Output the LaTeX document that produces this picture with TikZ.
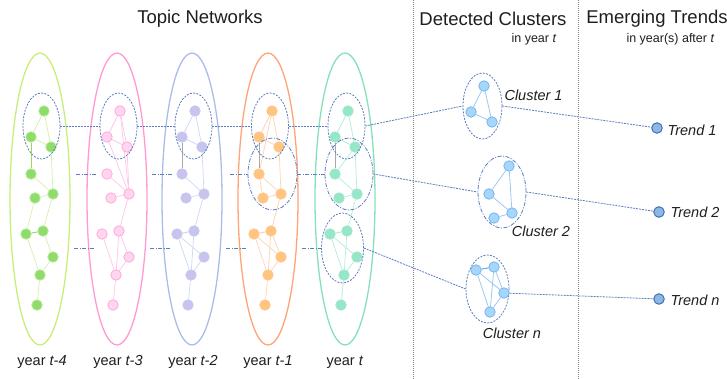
\documentclass[tikz,border=0pt]{standalone}
\usepackage{fontspec}
\setmainfont{Liberation Sans}
\usetikzlibrary{shapes.geometric}
\definecolor{gE}{HTML}{C6EE7A}\definecolor{gN}{HTML}{8EDC6A}\definecolor{gB}{HTML}{B4E898}\definecolor{gL}{HTML}{D4F0A8}\definecolor{gD}{HTML}{9AD868}
\definecolor{pE}{HTML}{FF9AD2}\definecolor{pN}{HTML}{FFD6EE}\definecolor{pB}{HTML}{FFA8DC}\definecolor{pL}{HTML}{FFC4E6}
\definecolor{uE}{HTML}{A9BDEA}\definecolor{uN}{HTML}{C9C3EE}\definecolor{uB}{HTML}{C4CCF2}\definecolor{uL}{HTML}{CCD8F4}
\definecolor{oE}{HTML}{FFA478}\definecolor{oN}{HTML}{FFC57E}\definecolor{oB}{HTML}{FFC890}\definecolor{oL}{HTML}{FFD2B0}
\definecolor{tE}{HTML}{86E0BC}\definecolor{tN}{HTML}{94E8C8}\definecolor{tB}{HTML}{A0E6CA}\definecolor{tL}{HTML}{AEEED6}
\definecolor{clb}{HTML}{5B7DBE}\definecolor{cN}{HTML}{A6D6FA}\definecolor{cB}{HTML}{6CB0EE}\definecolor{cL}{HTML}{9CC8F0}
\definecolor{trF}{HTML}{8DB8E6}\definecolor{trB}{HTML}{3F70B8}\definecolor{txt}{HTML}{1E1E1E}\definecolor{solidgray}{HTML}{A8A8A8}
\pgfdeclarelayer{bg}\pgfsetlayers{bg,main}
\newcommand\mknodes[3]{\foreach \i/\xx/\yy in {1/44/111,2/31/137,3/51/147,4/31/174,5/35/198,6/53/194,7/26/234,8/43/231,9/53/257,10/40/275,11/37/305}{\node[tn,#3] (#1\i) at (\xx+#2,\yy) {};}}
\newcommand\mkedges[3]{\begin{pgfonlayer}{bg}\foreach \a/\b in {#3}{\draw[line width=0.7pt,#2] (#1\a) -- (#1\b);}\end{pgfonlayer}}
\begin{document}
\begin{tikzpicture}[x=1pt,y=-1pt,font=\fontsize{11}{13}\selectfont,
  yearell/.style={draw,ellipse,line width=1.3pt,minimum width=60pt,minimum height=292pt,inner sep=0pt},
  tn/.style={circle,inner sep=0pt,minimum size=10.5pt,line width=0.8pt},
  cn/.style={circle,inner sep=0pt,minimum size=10.5pt,line width=0.7pt,fill=cN,draw=cB},
  cdash/.style={draw=clb,ellipse,inner sep=0pt,line width=0.8pt,dash pattern=on 2pt off 1.3pt},
  cdd/.style={draw=clb,ellipse,inner sep=0pt,line width=0.8pt,dash pattern=on 4pt off 1.5pt on 1pt off 1.5pt},
  lnk/.style={draw=clb,line width=0.8pt,dash pattern=on 2pt off 1pt},
  lnkdd/.style={draw=clb,line width=0.8pt,dash pattern=on 4pt off 1.5pt on 1pt off 1.5pt},
  trnd/.style={circle,inner sep=0pt,minimum size=10.5pt,line width=1pt,fill=trF,draw=trB},
  sep/.style={draw=gray,line width=0.9pt,dash pattern=on 1pt off 1pt},
  ttl/.style={text=txt,font=\fontsize{18.5}{22}\selectfont},
  sub/.style={text=txt,font=\fontsize{12.5}{14}\selectfont},
  ylab/.style={text=txt,font=\fontsize{14.5}{17}\selectfont},
  clab/.style={text=txt,font=\fontsize{14.5}{17}\selectfont\itshape}]
\useasboundingbox (0,0) rectangle (727,379);
% separators
\coordinate (s1t) at (413,0); \coordinate (s1b) at (413,379);
\coordinate (s2t) at (578,0); \coordinate (s2b) at (578,379);
\draw[sep] (s1t) -- (s1b);
\draw[sep] (s2t) -- (s2b);
% titles
\node[ttl] (tTN) at (200,19) {Topic Networks};
\node[ttl] (tDC) at (493,19) {Detected Clusters};
\node[ttl] (tET) at (657,19) {Emerging Trends};
\node[sub,anchor=east] (sDC) at (560,39) {in year \textit{t}};
\node[sub,anchor=east] (sET) at (718,39) {in year(s) after \textit{t}};
% year ellipses
\node[yearell,draw=gE] (eg) at (40,199) {};
\node[yearell,draw=pE] (ep) at (117,199) {};
\node[yearell,draw=uE] (eu) at (192,199) {};
\node[yearell,draw=oE] (eo) at (268,199) {};
\node[yearell,draw=tE] (et) at (345,199) {};
% year labels
\node[ylab] (lg) at (42,362) {year \textit{t-4}};
\node[ylab] (lp) at (118,362) {year \textit{t-3}};
\node[ylab] (lu) at (193,362) {year \textit{t-2}};
\node[ylab] (lo) at (268,362) {year \textit{t-1}};
\node[ylab] (lt) at (345,362) {year \textit{t}};
% networks
\mknodes{g}{0}{fill=gN,draw=gB}
\mknodes{p}{76}{fill=pN,draw=pB}
\mknodes{u}{151}{fill=uN,draw=uB}
\mknodes{o}{228}{fill=oN,draw=oB}
\mknodes{t}{304}{fill=tN,draw=tB}
\mkedges{g}{gL}{1/2,1/3,2/3,3/6,4/6,5/6,5/7,6/8,8/9,9/10,7/10,10/11}
\mkedges{g}{gD,line width=1pt}{2/4,7/8}
\mkedges{p}{pL}{1/2,1/3,2/3,2/6,3/6,1/6,4/6,5/6,6/8,8/10,8/9,9/10,7/10,10/11}
\mkedges{u}{uL}{1/2,1/3,2/3,3/6,4/6,5/6,6/8,7/9,7/10,8/10,9/10,10/11}
\mkedges{u}{solidgray,line width=1pt}{2/4}
\mkedges{u}{uL,line width=1.1pt}{7/8}
\mkedges{o}{oL}{1/2,1/3,1/4,2/3,3/6,4/6,4/5,5/6,6/8,7/9,7/10,8/9,8/10,9/10,10/11}
\mkedges{o}{solidgray,line width=1pt}{2/4}
\mkedges{o}{oL,line width=1.1pt}{7/8}
\mkedges{t}{tL}{1/2,1/3,2/3,3/4,3/6,4/6,5/6,6/8,7/9,7/10,8/10,9/10,10/11}
\mkedges{t}{solidgray,line width=1pt}{2/4}
\mkedges{t}{tL,line width=1.1pt}{7/8}
% cluster ellipses in networks
\node[cdash,minimum width=37pt,minimum height=66pt] (kg1) at (41.5,126) {};
\node[cdash,minimum width=37pt,minimum height=66pt] (kp1) at (118.5,126) {};
\node[cdash,minimum width=37pt,minimum height=66pt] (ku1) at (193.5,126) {};
\node[cdash,minimum width=37pt,minimum height=66pt] (ko1) at (270,126) {};
\node[cdash,minimum width=37pt,minimum height=66pt] (kt1) at (346.5,126) {};
\node[cdd,minimum width=49pt,minimum height=72pt] (ko2) at (272.5,174) {};
\node[cdd,minimum width=48pt,minimum height=72pt] (kt2) at (349,174) {};
\node[cdash,minimum width=42pt,minimum height=70pt] (ktn) at (342.5,248) {};
% links between years
\draw[lnk] (kg1.east) -- (kp1.west);
\draw[lnk] (kp1.east) -- (ku1.west);
\draw[lnk] (ku1.east) -- (ko1.west);
\draw[lnk] (ko1.east) -- (kt1.west);
\coordinate (a1) at (76,174); \coordinate (a2) at (97,174);
\coordinate (a3) at (152,174); \coordinate (a4) at (172,174);
\coordinate (a5) at (230,174);
\draw[lnkdd] (a1) -- (a2);
\draw[lnkdd] (a3) -- (a4);
\draw[lnkdd] (a5) -- (ko2.west);
\draw[lnkdd] (ko2.east) -- (kt2.west);
\coordinate (b1) at (74,248); \coordinate (b2) at (95,248);
\coordinate (b3) at (150,248); \coordinate (b4) at (170,248);
\coordinate (b5) at (226,248); \coordinate (b6) at (247,248);
\coordinate (b7) at (302,248);
\draw[lnkdd] (b1) -- (b2);
\draw[lnkdd] (b3) -- (b4);
\draw[lnkdd] (b5) -- (b6);
\draw[lnkdd] (b7) -- (ktn.west);
% detected clusters
\node[cdash,minimum width=39pt,minimum height=66pt] (C1) at (482.5,106) {};
\node[cn] (c1a) at (484,86) {};
\node[cn] (c1b) at (471,112) {};
\node[cn] (c1c) at (492,122) {};
\begin{pgfonlayer}{bg}\draw[cL,line width=0.8pt] (c1a)--(c1b) (c1a)--(c1c) (c1b)--(c1c);\end{pgfonlayer}
\node[clab,anchor=west] (C1l) at (501,95) {Cluster 1};
\node[cdd,minimum width=48pt,minimum height=72pt] (C2) at (502,192) {};
\node[cn] (c2a) at (509,166) {};
\node[cn] (c2b) at (489,194) {};
\node[cn] (c2c) at (494,218) {};
\node[cn] (c2d) at (512,213) {};
\begin{pgfonlayer}{bg}\draw[cL,line width=0.8pt] (c2a)--(c2b) (c2a)--(c2d) (c2b)--(c2d) (c2c)--(c2d);\end{pgfonlayer}
\node[clab] (C2l) at (541,231) {Cluster 2};
\node[cdash,minimum width=43pt,minimum height=68pt] (Cn) at (487.5,289) {};
\node[cn] (cna) at (476,270) {};
\node[cn] (cnb) at (494,267) {};
\node[cn] (cnc) at (504,293) {};
\node[cn] (cnd) at (490,312) {};
\begin{pgfonlayer}{bg}\draw[cL,line width=0.8pt] (cna)--(cnc) (cna)--(cnd) (cnb)--(cnc) (cnb)--(cnd) (cnc)--(cnd);
\draw[cB,line width=1.1pt] (cna)--(cnb);\end{pgfonlayer}
\node[clab] (Cnl) at (512,333) {Cluster \textit{n}};
% links to detected clusters
\draw[lnk] (kt1.east) -- (C1.west);
\draw[lnk] (kt2.east) -- (C2.west);
\draw[lnk] (ktn.east) -- (Cn.west);
% trends
\node[trnd] (T1) at (657,128) {};
\node[trnd] (T2) at (659,212) {};
\node[trnd] (Tn) at (659,299) {};
\node[clab,anchor=west] (T1l) at (664,130) {Trend 1};
\node[clab,anchor=west] (T2l) at (667,212) {Trend 2};
\node[clab,anchor=west] (Tnl) at (667,300) {Trend \textit{n}};
\draw[lnk] (C1.east) -- (T1);
\draw[lnk] (C2.east) -- (T2);
\draw[lnk] (cnc) -- (Tn);
\end{tikzpicture}
\end{document}
